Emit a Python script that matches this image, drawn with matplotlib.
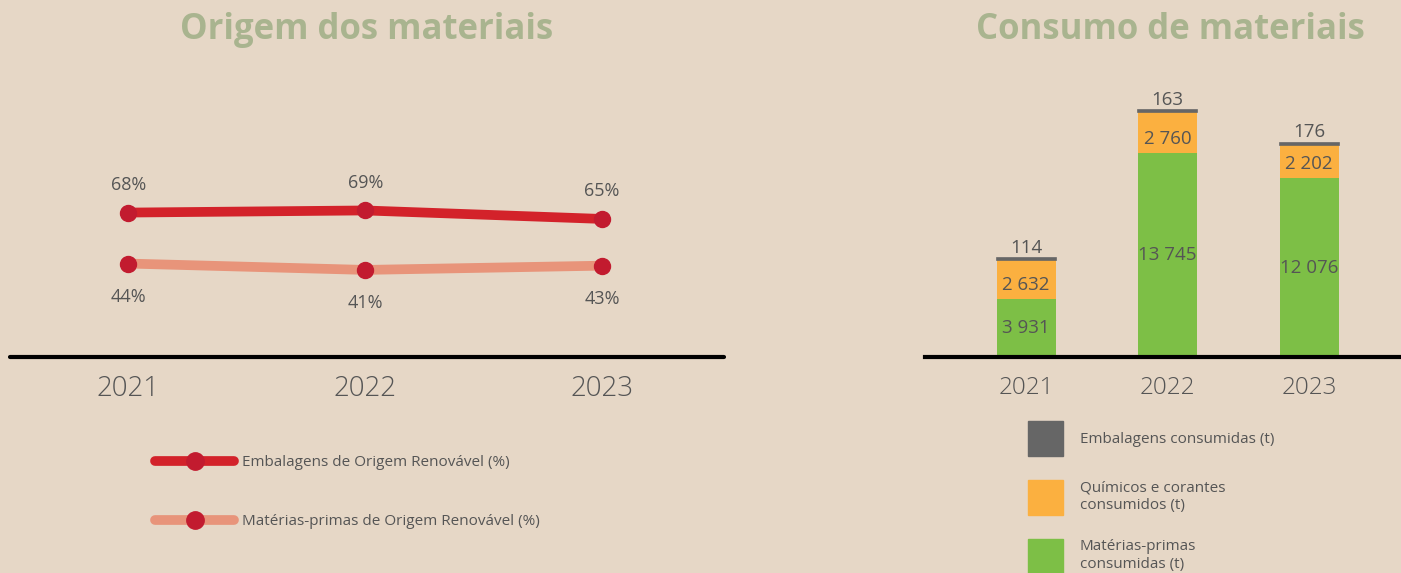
import matplotlib
matplotlib.use("Agg")
import matplotlib.pyplot as plt
from matplotlib.lines import Line2D
from matplotlib.patches import Patch

# Dados
anos = ["2021", "2022", "2023"]
embalagens_renov = [68, 69, 65]
materias_renov = [44, 41, 43]

materias_consumidas = [3931, 13745, 12076]
quimicos_consumidos = [2632, 2760, 2202]
embalagens_consumidas = [114, 163, 176]

BG = "#E6D7C6"
TITULO = "#A9B48F"
TEXTO = "#555555"
VERMELHO = "#D3222A"
MARCADOR = "#C21B2F"
SALMAO = "#E8947A"
VERDE = "#7DBF46"
LARANJA = "#FBB040"
CINZA = "#666666"

W, H = 1401, 573
plt.rcParams["font.family"] = ["Open Sans", "DejaVu Sans"]

fig = plt.figure(figsize=(W / 100, H / 100), dpi=100, facecolor=BG)


def px_box(x0, y_top, x1, y_bot):
    return [x0 / W, 1 - y_bot / H, (x1 - x0) / W, (y_bot - y_top) / H]


def fmt(v):
    return f"{v:,}".replace(",", " ")


# Gráfico 1 — Origem dos materiais
ax1 = fig.add_axes(px_box(10, 100, 724, 357))
ax1.set_facecolor("none")
x = range(len(anos))
ax1.plot(x, embalagens_renov, color=VERMELHO, lw=7, solid_capstyle="round",
         marker="o", ms=11.5, mfc=MARCADOR, mec=MARCADOR, zorder=3)
ax1.plot(x, materias_renov, color=SALMAO, lw=7, solid_capstyle="round",
         marker="o", ms=11.5, mfc=MARCADOR, mec=MARCADOR, zorder=3)
for xi, v in zip(x, embalagens_renov):
    ax1.annotate(f"{v}%", (xi, v), xytext=(0, 20), textcoords="offset points",
                 ha="center", va="center", fontsize=13, color=TEXTO)
for xi, v in zip(x, materias_renov):
    ax1.annotate(f"{v}%", (xi, v), xytext=(0, -24), textcoords="offset points",
                 ha="center", va="center", fontsize=13, color=TEXTO)
ax1.set_xlim(-0.5, 2.515)
ax1.set_ylim(0, 121)
ax1.set_xticks(list(x))
ax1.set_xticklabels(anos, fontsize=20, color=TEXTO, fontweight="light")
ax1.tick_params(axis="x", length=0, pad=13)
ax1.set_yticks([])
for s in ["top", "left", "right"]:
    ax1.spines[s].set_visible(False)
ax1.spines["bottom"].set_linewidth(3)
ax1.spines["bottom"].set_capstyle("round")
ax1.set_title("Origem dos materiais", fontsize=25, fontweight="bold", color=TITULO,
              x=(367 - 10) / 714, y=1.0, pad=44)

h1 = [Line2D([], [], color=VERMELHO, lw=7, solid_capstyle="round",
             marker="o", ms=12.5, mfc=MARCADOR, mec=MARCADOR),
      Line2D([], [], color=SALMAO, lw=7, solid_capstyle="round",
             marker="o", ms=12.5, mfc=MARCADOR, mec=MARCADOR)]
leg1 = fig.legend(h1, ["Embalagens de Origem Renovável (%)",
                       "Matérias-primas de Origem Renovável (%)"],
                  loc="upper left", bbox_to_anchor=(155 / W, 1 - 455 / H),
                  frameon=False, fontsize=11, handlelength=5.2, handletextpad=0.5,
                  labelspacing=2.88, labelcolor=TEXTO, borderpad=0, borderaxespad=0)

# Gráfico 2 — Consumo de materiais
ax2 = fig.add_axes(px_box(925, 100, 1401, 357))
ax2.set_facecolor("none")
largura = 0.417
base2 = [a + b for a, b in zip(materias_consumidas, quimicos_consumidos)]
ax2.bar(x, materias_consumidas, width=largura, color=VERDE)
ax2.bar(x, quimicos_consumidos, width=largura, bottom=materias_consumidas, color=LARANJA)
ax2.bar(x, embalagens_consumidas, width=largura, bottom=base2, color=CINZA,
        edgecolor=CINZA, linewidth=1.2)
for xi, v in zip(x, materias_consumidas):
    ax2.text(xi, v / 2, fmt(v), ha="center", va="center", fontsize=13.5, color=TEXTO)
for xi, b, v in zip(x, materias_consumidas, quimicos_consumidos):
    ax2.annotate(fmt(v), (xi, b), xytext=(0, 10), textcoords="offset points",
                 ha="center", va="center", fontsize=13.5, color=TEXTO)
for xi, b, v in zip(x, base2, embalagens_consumidas):
    ax2.annotate(fmt(v), (xi, b + v), xytext=(0, 1), textcoords="offset points",
                 ha="center", va="bottom", fontsize=13.5, color=TEXTO)
ax2.set_xlim(-0.714, 2.65)
ax2.set_ylim(0, 17341)
ax2.set_xticks(list(x))
ax2.set_xticklabels(anos, fontsize=17.5, color=TEXTO, fontweight="light")
ax2.tick_params(axis="x", length=0, pad=14)
ax2.set_yticks([])
for s in ["top", "left", "right"]:
    ax2.spines[s].set_visible(False)
ax2.spines["bottom"].set_linewidth(3)
ax2.set_title("Consumo de materiais", fontsize=25, fontweight="bold", color=TITULO,
              x=(1170 - 925) / 476, y=1.0, pad=44)

h2 = [Patch(color=CINZA), Patch(color=LARANJA), Patch(color=VERDE)]
leg2 = fig.legend(h2, ["Embalagens consumidas (t)",
                       "Químicos e corantes\nconsumidos (t)",
                       "Matérias-primas\nconsumidas (t)"],
                  loc="upper left", bbox_to_anchor=(1028 / W, 1 - 421 / H),
                  frameon=False, fontsize=11, handlelength=2.29, handleheight=3.15,
                  handletextpad=1.1, labelspacing=1.57, labelcolor=TEXTO,
                  borderpad=0, borderaxespad=0)

fig.savefig("out.png", dpi=100, facecolor=BG)
